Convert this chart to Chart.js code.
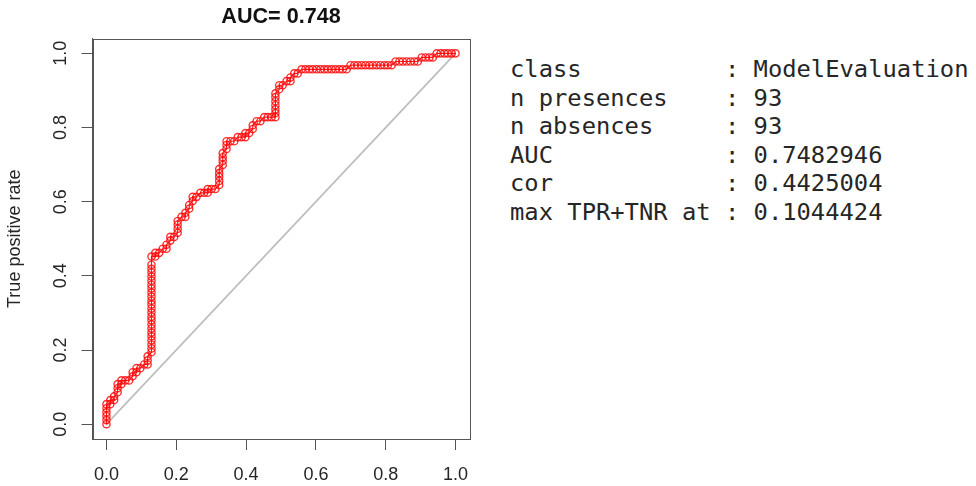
<!DOCTYPE html>
<html>
<head>
<meta charset="utf-8">
<script src="https://cdn.jsdelivr.net/npm/chart.js@4/dist/chart.umd.min.js"></script>
<style>
  html, body { margin: 0; padding: 0; background: #ffffff; }
  body { width: 976px; height: 486px; position: relative; overflow: hidden; }
  #wrap { position: absolute; left: 0; top: 0; width: 490px; height: 486px; }
  #info {
    position: absolute; left: 510px; top: 55px; margin: 0;
    font-family: "DejaVu Sans Mono", "Liberation Mono", monospace;
    font-size: 23.8px; line-height: 28.6px; color: #262626; white-space: pre;
  }
</style>
</head>
<body>
<div id="wrap"><canvas id="c" width="490" height="486"></canvas></div>
<pre id="info"></pre>
<script>
// ---- data ----
const chartTitle = "AUC= 0.748";
const yAxisTitle = "True positive rate";
const tickValues = [0, 0.2, 0.4, 0.6, 0.8, 1.0];

// false positive rate (x) and true positive rate (y) of the ROC points
const fpr = [
  0, 0, 0, 0, 0, 0, 0.011, 0.011, 0.022, 0.022, 0.032, 0.032, 0.032, 0.043, 0.043, 0.054, 0.065, 0.075, 0.075, 0.086,
  0.086, 0.097, 0.108, 0.118, 0.118, 0.118, 0.129, 0.129,
  0.129, 0.129, 0.129, 0.129, 0.129, 0.129, 0.129, 0.129, 0.129, 0.129, 0.129, 0.129, 0.129, 0.129, 0.129, 0.129, 0.129,
  0.129, 0.129, 0.129, 0.129, 0.129,
  0.140, 0.140, 0.151, 0.161, 0.172, 0.172, 0.183, 0.183, 0.194, 0.204, 0.204, 0.204, 0.204, 0.215, 0.226, 0.226, 0.237,
  0.237, 0.247, 0.247, 0.258, 0.269, 0.280, 0.290, 0.290, 0.301, 0.312, 0.323, 0.323, 0.323, 0.323, 0.323, 0.333, 0.333,
  0.333, 0.333, 0.344, 0.344, 0.344, 0.355, 0.366, 0.376, 0.387, 0.398, 0.398, 0.409, 0.419, 0.419, 0.430, 0.441, 0.452,
  0.462, 0.473, 0.484, 0.484, 0.484, 0.484, 0.484, 0.484, 0.484, 0.495, 0.495, 0.505, 0.516, 0.527, 0.527, 0.538, 0.548,
  0.559, 0.570, 0.581, 0.591, 0.602, 0.613, 0.624, 0.634, 0.645, 0.656, 0.667, 0.677, 0.688, 0.699, 0.710, 0.720, 0.731,
  0.742, 0.753, 0.763, 0.774, 0.785, 0.796, 0.806, 0.817, 0.828, 0.839, 0.849, 0.860, 0.871, 0.882, 0.892, 0.903, 0.914,
  0.925, 0.935, 0.946, 0.957, 0.968, 0.978, 0.989, 1.0
];
const tpr = [
  0, 0.011, 0.022, 0.032, 0.043, 0.054, 0.054, 0.065, 0.065, 0.075, 0.086, 0.097, 0.108, 0.108, 0.118, 0.118, 0.118, 0.129, 0.140, 0.140,
  0.151, 0.151, 0.161, 0.161, 0.172, 0.183, 0.194, 0.204,
  0.215, 0.226, 0.237, 0.247, 0.258, 0.269, 0.280, 0.290, 0.301, 0.312, 0.323, 0.333, 0.344, 0.355, 0.366, 0.376, 0.387,
  0.398, 0.409, 0.419, 0.430, 0.452,
  0.452, 0.462, 0.462, 0.473, 0.473, 0.484, 0.495, 0.505, 0.505, 0.516, 0.527, 0.538, 0.548, 0.559, 0.559, 0.570, 0.581,
  0.591, 0.602, 0.613, 0.613, 0.624, 0.624, 0.624, 0.634, 0.634, 0.634, 0.645, 0.656, 0.667, 0.677, 0.688, 0.699, 0.710,
  0.720, 0.731, 0.742, 0.753, 0.763, 0.763, 0.763, 0.774, 0.774, 0.774, 0.785, 0.785, 0.796, 0.806, 0.817, 0.817, 0.828,
  0.828, 0.828, 0.828, 0.839, 0.849, 0.860, 0.871, 0.882, 0.892, 0.903, 0.914, 0.914, 0.925, 0.925, 0.935, 0.946, 0.946,
  0.957, 0.957, 0.957, 0.957, 0.957, 0.957, 0.957, 0.957, 0.957, 0.957, 0.957, 0.957, 0.957, 0.968, 0.968, 0.968, 0.968,
  0.968, 0.968, 0.968, 0.968, 0.968, 0.968, 0.968, 0.968, 0.978, 0.978, 0.978, 0.978, 0.978, 0.978, 0.978, 0.989, 0.989,
  0.989, 0.989, 1.0, 1.0, 1.0, 1.0, 1.0, 1.0
];
// reference diagonal (random classifier)
const diagX = [0, 1];
const diagY = [0, 1];

// summary printed next to the plot
const infoKeys = ["class", "n presences", "n absences", "AUC", "cor", "max TPR+TNR at"];
const infoVals = ["ModelEvaluation", "93", "93", "0.7482946", "0.4425004", "0.1044424"];

// ---- text block ----
document.getElementById('info').textContent =
  infoKeys.map((k, i) => k.padEnd(15, ' ') + ': ' + infoVals[i]).join('\n');

// ---- chart ----
const rocPoints = fpr.map((x, i) => ({ x: x, y: tpr[i] }));
const diagPoints = diagX.map((x, i) => ({ x: x, y: diagY[i] }));

const FONT = '"Liberation Sans", Arial, sans-serif';
const AX = '#555555';
const TXT = '#262626';

const boxPlugin = {
  id: 'box',
  beforeDatasetsDraw(chart) {
    const a = chart.chartArea, ctx = chart.ctx;
    ctx.save();
    ctx.strokeStyle = AX;
    ctx.lineWidth = 1;
    ctx.strokeRect(Math.round(a.left) + 0.5, Math.round(a.top) + 0.5,
                   Math.round(a.right - a.left), Math.round(a.bottom - a.top));
    ctx.restore();
  }
};

const setTicks = (scale) => { scale.ticks = tickValues.map(v => ({ value: v })); };

new Chart(document.getElementById('c'), {
  type: 'scatter',
  data: {
    datasets: [
      {
        data: rocPoints,
        showLine: true,
        borderColor: 'rgba(255,0,0,0.9)',
        borderWidth: 1.2,
        pointStyle: 'circle',
        pointRadius: 3.6,
        pointBorderWidth: 1.4,
        pointBorderColor: 'rgba(255,0,0,0.8)',
        pointBackgroundColor: 'rgba(0,0,0,0)'
      },
      {
        data: diagPoints,
        showLine: true,
        borderColor: '#bdbdbd',
        borderWidth: 1.7,
        pointRadius: 0
      }
    ]
  },
  plugins: [boxPlugin],
  options: {
    responsive: false,
    animation: false,
    layout: { padding: { left: 0, top: 0, right: 20.5, bottom: 0 } },
    plugins: {
      legend: { display: false },
      tooltip: { enabled: false },
      title: {
        display: true,
        fullSize: false,
        text: chartTitle,
        color: '#111111',
        font: { family: FONT, size: 21.6, weight: 'bold', lineHeight: 1.2 },
        padding: { top: 4, bottom: 8.6 }
      }
    },
    scales: {
      x: {
        type: 'linear',
        min: -0.04, max: 1.04,
        afterBuildTicks: setTicks,
        afterFit: (s) => { s.height = 47; },
        grid: { drawOnChartArea: false, drawTicks: true, tickLength: 11, color: AX, lineWidth: 1 },
        border: { display: true, color: AX, width: 1 },
        ticks: {
          autoSkip: false, maxRotation: 0, minRotation: 0,
          padding: 14, color: TXT,
          font: { family: FONT, size: 18 },
          callback: (v) => Number(v).toFixed(1)
        }
      },
      y: {
        type: 'linear',
        min: -0.04, max: 1.04,
        afterBuildTicks: setTicks,
        afterFit: (s) => { s.width = 92.5; },
        grid: { drawOnChartArea: false, drawTicks: true, tickLength: 11, color: AX, lineWidth: 1 },
        border: { display: true, color: AX, width: 1 },
        title: {
          display: true, text: yAxisTitle, color: TXT,
          font: { family: FONT, size: 18 },
          padding: { top: 4, bottom: 0 }
        },
        ticks: {
          autoSkip: false, minRotation: 90, maxRotation: 90, crossAlign: 'center',
          padding: 8, color: TXT,
          font: { family: FONT, size: 18 },
          callback: (v) => Number(v).toFixed(1)
        }
      }
    }
  }
});
</script>
</body>
</html>
